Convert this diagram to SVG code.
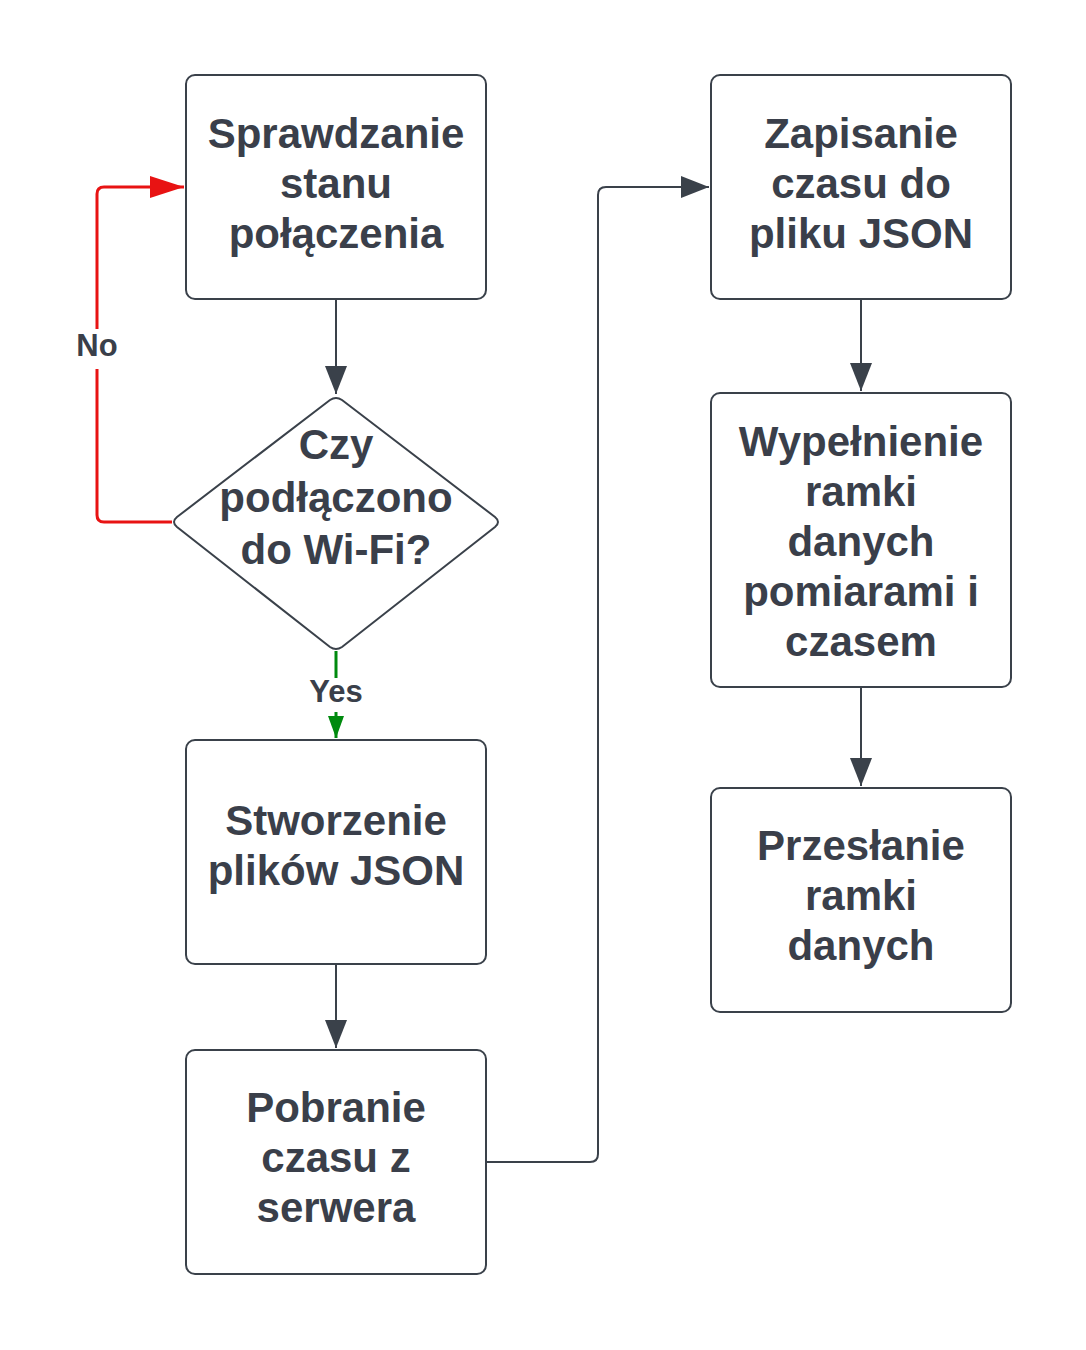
<svg xmlns="http://www.w3.org/2000/svg" width="1086" height="1350" viewBox="0 0 1086 1350">
<style>
.box{fill:#fff;stroke:#3a414a;stroke-width:2}
.t{font-family:"Liberation Sans",Arial,sans-serif;font-weight:bold;font-size:42px;fill:#3a3f4a;text-anchor:middle}
.lbl{font-family:"Liberation Sans",Arial,sans-serif;font-weight:bold;font-size:31px;fill:#3a3f4a;text-anchor:middle}
.c{fill:none;stroke:#3a414a;stroke-width:2}
</style>
<defs>
<marker id="ah" markerWidth="30" markerHeight="22" refX="28" refY="11" orient="auto" markerUnits="userSpaceOnUse"><path d="M0,0 L28,11 L0,22 Z" fill="#3a414a"/></marker>
<marker id="ahr" markerWidth="36" markerHeight="22" refX="34" refY="11" orient="auto" markerUnits="userSpaceOnUse"><path d="M0,0 L34,11 L0,22 Z" fill="#e81313"/></marker>
<marker id="ahg" markerWidth="24" markerHeight="16" refX="22" refY="8" orient="auto" markerUnits="userSpaceOnUse"><path d="M0,0 L22,8 L0,16 Z" fill="#008a0e"/></marker>
</defs>
<rect width="1086" height="1350" fill="#fff"/>
<g id="connectors">
<path class="c" d="M336,299 V394" marker-end="url(#ah)"/>
<path d="M172,522 H104 Q97,522 97,515 V369 M97,329 V194 Q97,187 104,187 H184" fill="none" stroke="#e81313" stroke-width="3" marker-end="url(#ahr)"/>
<path d="M336,651 V678 M336,712 V738" fill="none" stroke="#008a0e" stroke-width="3" marker-end="url(#ahg)"/>
<path class="c" d="M336,964 V1048" marker-end="url(#ah)"/>
<path class="c" d="M486,1162 H590 Q598,1162 598,1154 V195 Q598,187 606,187 H709" marker-end="url(#ah)"/>
<path class="c" d="M861,299 V391" marker-end="url(#ah)"/>
<path class="c" d="M861,687 V786" marker-end="url(#ah)"/>
<text class="lbl" x="97" y="356">No</text>
<text class="lbl" x="336" y="702">Yes</text>
</g>
<g id="n1"><rect class="box" x="186" y="75" width="300" height="224" rx="9"/>
<text class="t" x="336" y="148">Sprawdzanie</text><text class="t" x="336" y="198">stanu</text><text class="t" x="336" y="248">połączenia</text></g>
<g id="n2"><path class="box" d="M330,400 Q336,396 342,400 L495,517 Q501,522 495,527 L342,647 Q336,651 330,647 L177,527 Q171,522 177,517 Z"/>
<text class="t" x="336" y="459">Czy</text><text class="t" x="336" y="512">podłączono</text><text class="t" x="336" y="564">do Wi-Fi?</text></g>
<g id="n3"><rect class="box" x="186" y="740" width="300" height="224" rx="9"/>
<text class="t" x="336" y="835">Stworzenie</text><text class="t" x="336" y="885">plików JSON</text></g>
<g id="n4"><rect class="box" x="186" y="1050" width="300" height="224" rx="9"/>
<text class="t" x="336" y="1122">Pobranie</text><text class="t" x="336" y="1172">czasu z</text><text class="t" x="336" y="1222">serwera</text></g>
<g id="n5"><rect class="box" x="711" y="75" width="300" height="224" rx="9"/>
<text class="t" x="861" y="148">Zapisanie</text><text class="t" x="861" y="198">czasu do</text><text class="t" x="861" y="248">pliku JSON</text></g>
<g id="n6"><rect class="box" x="711" y="393" width="300" height="294" rx="9"/>
<text class="t" x="861" y="456">Wypełnienie</text><text class="t" x="861" y="506">ramki</text><text class="t" x="861" y="556">danych</text><text class="t" x="861" y="606">pomiarami i</text><text class="t" x="861" y="656">czasem</text></g>
<g id="n7"><rect class="box" x="711" y="788" width="300" height="224" rx="9"/>
<text class="t" x="861" y="860">Przesłanie</text><text class="t" x="861" y="910">ramki</text><text class="t" x="861" y="960">danych</text></g>
</svg>
